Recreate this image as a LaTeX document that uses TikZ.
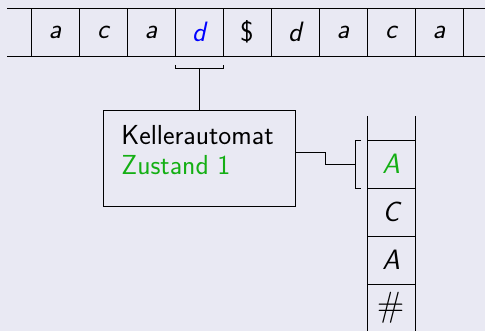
\documentclass[tikz,border=0pt]{standalone}
\usepackage{xcolor}
\usetikzlibrary{calc}
\definecolor{bg}{RGB}{233,233,243}
\definecolor{zgreen}{RGB}{20,175,20}
\begin{document}
\begin{tikzpicture}[x=1pt,y=-1pt,line width=0.9pt,
  cell/.style={draw,minimum width=48pt,minimum height=48pt,inner sep=0pt,outer sep=0pt,font=\fontsize{28}{34}\selectfont\sffamily\itshape},
  scell/.style={cell,font=\fontsize{28}{32}\selectfont\sffamily\itshape},
  txt/.style={inner sep=0pt,font=\fontsize{27.5}{30}\selectfont\sffamily},
  box/.style={draw,minimum width=192pt,minimum height=96pt,inner sep=0pt,outer sep=0pt}]
\fill[bg] (0,0) rectangle (485,331);
\useasboundingbox (0,0) rectangle (485,331);
% tape
\coordinate (tl) at (7,8);
\coordinate (tr) at (485,8);
\coordinate (bl) at (7,56);
\coordinate (br) at (485,56);
\draw (tl) -- (tr);
\draw (bl) -- (br);
\foreach \i/\t/\c in {1/a/black,2/c/black,3/a/black,4/d/blue,5/{\upshape\$}/black,6/d/black,7/a/black,8/c/black,9/a/black}{
  \node[cell,text=\c] (t\i) at ({31+48*\i-24},32) {\t};
}
% head bracket
\coordinate (hl) at ($(t4.south west)+(0,12)$);
\coordinate (hr) at ($(t4.south east)+(0,12)$);
\coordinate (hm) at ($(t4.south)+(0,12)$);
\draw ($(hl)+(0,-3)$) -- (hl) -- (hr) -- ++(0,-3);
% box
\node[box] (ka) at (199,158) {};
\draw (hm) -- (ka.north);
\node[txt,anchor=base west] (k1) at (121,145) {Kellerautomat};
\node[txt,anchor=base west,text=zgreen] (k2) at (121,175) {Zustand 1};
% stack
\foreach \i/\t/\c in {1/A/zgreen,2/C/black,3/A/black,4/{\rmfamily\upshape\fontsize{35}{40}\selectfont\#}/black}{
  \node[scell,text=\c] (s\i) at (391,{140+48*\i-24}) {\t};
}
\coordinate (st1) at (367,116);
\coordinate (st2) at (415,116);
\coordinate (sb1) at (367,331);
\coordinate (sb2) at (415,331);
\draw (st1) -- (sb1);
\draw (st2) -- (sb2);
% stack bracket
\coordinate (sbt) at ($(s1.north west)+(-12,0)$);
\coordinate (sbb) at ($(s1.south west)+(-12,0)$);
\coordinate (sbm) at ($(s1.west)+(-12,0)$);
\draw ($(sbt)+(6,0)$) -- (sbt) -- (sbb) -- ++(6,0);
\coordinate (ke) at ($(ka.east)+(0,-6)$);
\draw (ke) -- ++(30.5,0) |- (sbm);
\end{tikzpicture}
\end{document}
